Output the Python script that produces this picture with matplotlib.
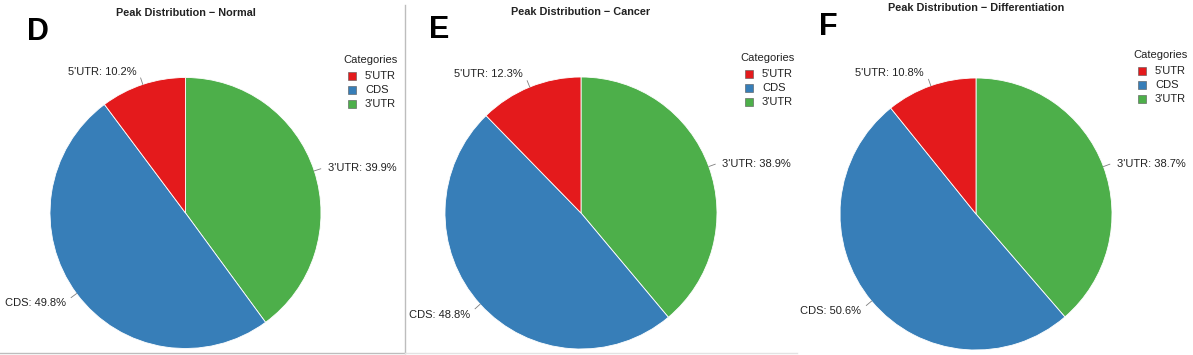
import numpy as np
import matplotlib
matplotlib.use('Agg')
import matplotlib.pyplot as plt
from matplotlib.patches import Rectangle

plt.rcParams['font.family'] = ['Liberation Sans', 'DejaVu Sans']

# data (percent per category)
categories = ["5'UTR", "CDS", "3'UTR"]
normal_pct = [10.2, 49.8, 39.9]
cancer_pct = [12.3, 48.8, 38.9]
diff_pct = [10.8, 50.6, 38.7]
panel_letters = ['D', 'E', 'F']
panel_titles = ['Peak Distribution \u2212 Normal',
                'Peak Distribution \u2212 Cancer',
                'Peak Distribution \u2212 Differentiation']
colors = {"5'UTR": '#E41A1C', 'CDS': '#377EB8', "3'UTR": '#4DAF4A'}

W, H = 1193, 355
fig = plt.figure(figsize=(W / 100, H / 100), dpi=100)
ax = fig.add_axes([0, 0, 1, 1])

# layout in pixel coords (y measured from top)
layout = [
    dict(cx=185.5, cy=213, r=135.5, title=(186, 13), letter=(27, 32), leg=(343, 60)),
    dict(cx=581, cy=213, r=136, title=(581, 12), letter=(429, 30), leg=(740, 58)),
    dict(cx=976, cy=214, r=136, title=(976, 8), letter=(819, 27), leg=(1133, 55)),
]

all_pct = [normal_pct, cancer_pct, diff_pct]
draw_order = ["3'UTR", 'CDS', "5'UTR"]

for pct, lay, letter, title in zip(all_pct, layout, panel_letters, panel_titles):
    vals = [pct[categories.index(c)] for c in draw_order]
    cx, cy, r = lay['cx'], H - lay['cy'], lay['r']
    wedges, _ = ax.pie(vals, colors=[colors[c] for c in draw_order],
                       startangle=90, counterclock=False, center=(cx, cy),
                       radius=r, frame=True,
                       wedgeprops=dict(edgecolor='white', linewidth=0.6))
    # labels with short leader lines
    for w, c, v in zip(wedges, draw_order, vals):
        mid = np.deg2rad((w.theta1 + w.theta2) / 2)
        ca, sa = np.cos(mid), np.sin(mid)
        ax.plot([cx + r * ca, cx + 1.05 * r * ca], [cy + r * sa, cy + 1.05 * r * sa],
                color='#7f7f7f', lw=0.6)
        ha = 'left' if ca > 0 else 'right'
        if abs(sa) < 0.5:
            va = 'center'
        else:
            va = 'bottom' if sa > 0 else 'top'
        tx = cx + 1.06 * r * ca + (6 if ca > 0 else -4)
        ty = cy + 1.06 * r * sa
        ax.text(tx, ty, f'{c}: {v}%', ha=ha, va=va, fontsize=8, color='#222222')

    ax.text(lay['title'][0], H - lay['title'][1], title, ha='center', va='center',
            fontsize=7.8, fontweight='bold', color='#222222')
    ax.text(lay['letter'][0], H - lay['letter'][1], letter, ha='left', va='center',
            fontsize=22, fontweight='bold', color='black')

    # legend
    lx, ly = lay['leg']
    ax.text(lx, H - ly, 'Categories', ha='left', va='center', fontsize=8, color='#222222')
    for i, c in enumerate(categories):
        yy = ly + 16 + i * 14
        ax.add_patch(Rectangle((lx + 5, H - yy - 4), 8, 8, facecolor=colors[c],
                               edgecolor='#555555', linewidth=0.4))
        ax.text(lx + 22, H - yy, c, ha='left', va='center', fontsize=8, color='#222222')

# panel separators
ax.plot([404.5, 404.5], [H - 5, H - 353], color='#bdbdbd', lw=1)
ax.plot([0, 404.5], [H - 353, H - 353], color='#bdbdbd', lw=1)
ax.plot([404.5, 797], [H - 353, H - 353], color='#e3e3e3', lw=1)

ax.set_xlim(0, W)
ax.set_ylim(0, H)
ax.set_aspect('auto')
ax.axis('off')

fig.savefig('out.png', dpi=100)
